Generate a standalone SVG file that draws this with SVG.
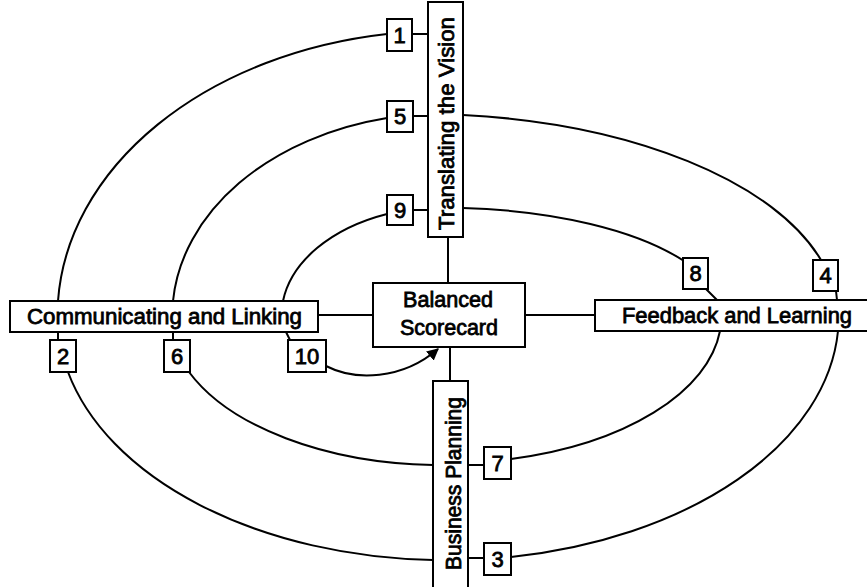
<svg xmlns="http://www.w3.org/2000/svg" width="867" height="587" viewBox="0 0 867 587">
<style>
.box{fill:#fff;stroke:#000;stroke-width:2}
.ln{fill:none;stroke:#000;stroke-width:2}
.t{font-family:"Liberation Sans",Arial,sans-serif;font-size:22px;fill:#000;stroke:#000;stroke-width:0.8}
.n{text-anchor:middle}
</style>
<defs>
<marker id="ah" viewBox="0 0 10 10" refX="9" refY="5" markerWidth="12" markerHeight="12" markerUnits="userSpaceOnUse" orient="auto">
<path d="M0,0 L10,5 L0,10 z" fill="#000"/>
</marker>
</defs>
<rect width="867" height="587" fill="#fff"/>
<g id="connectors">
<path class="ln" d="M387 34 A387.5 285.2 0 0 0 58 301"/>
<path class="ln" d="M68 372 A387.3 244.1 0 0 0 433 560"/>
<path class="ln" d="M511 557 A393.7 244.5 0 0 0 838 331"/>
<path class="ln" d="M821 260 A418 202.1 0 0 0 463 115"/>
<path class="ln" d="M387 118 A272.8 202.6 0 0 0 173 301"/>
<path class="ln" d="M189 372 A273 149.1 0 0 0 433 465"/>
<path class="ln" d="M511 459 A276.4 147.3 0 0 0 720 331"/>
<path class="ln" d="M684 261 A279.3 108.2 0 0 0 463 208"/>
<path class="ln" d="M387 214 A164.6 109 0 0 0 283 301"/>
<path class="ln" d="M326 366 C355 381 402 380 438 349" marker-end="url(#ah)"/>
<path class="ln" d="M412 34 H428 M413 116 H428 M413 210 H428 M58 332 V340 M173 332 V340 M286 332 L290 340 M468 465 H484 M468 558 H484 M706 289 L717 300 M836 291 L837 300"/>
<path class="ln" d="M448 237 V283 M318 315 H373 M525 315 H595 M450 347 V381"/>
</g>
<g id="translating">
<rect class="box" x="428" y="2" width="35" height="235"/>
<text class="t n" transform="translate(453.5,123.5) rotate(-90)" textLength="213" lengthAdjust="spacingAndGlyphs">Translating the Vision</text>
</g>
<g id="communicating">
<rect class="box" x="10" y="301" width="308" height="31"/>
<text class="t" x="27" y="323.5" textLength="275" lengthAdjust="spacingAndGlyphs">Communicating and Linking</text>
</g>
<g id="scorecard">
<rect class="box" x="373" y="283" width="152" height="64"/>
<text class="t n" x="448" y="306.5" textLength="90" lengthAdjust="spacingAndGlyphs">Balanced</text>
<text class="t n" x="449" y="334.5" textLength="98" lengthAdjust="spacingAndGlyphs">Scorecard</text>
</g>
<g id="feedback">
<rect class="box" x="595" y="300" width="280" height="31"/>
<text class="t" x="622" y="322.5" textLength="230" lengthAdjust="spacingAndGlyphs">Feedback and Learning</text>
</g>
<g id="planning">
<rect class="box" x="433" y="381" width="35" height="215"/>
<text class="t n" transform="translate(460.5,483.5) rotate(-90)" textLength="173" lengthAdjust="spacingAndGlyphs">Business Planning</text>
</g>
<g id="n1"><rect class="box" x="387" y="19" width="25" height="32"/><text class="t n" x="399.5" y="43">1</text></g>
<g id="n2"><rect class="box" x="50" y="340" width="26" height="32"/><text class="t n" x="63" y="364">2</text></g>
<g id="n3"><rect class="box" x="484" y="543" width="27" height="32"/><text class="t n" x="497.5" y="567">3</text></g>
<g id="n4"><rect class="box" x="813" y="260" width="25" height="31"/><text class="t n" x="825.5" y="283">4</text></g>
<g id="n5"><rect class="box" x="387" y="101" width="26" height="31"/><text class="t n" x="400" y="124">5</text></g>
<g id="n6"><rect class="box" x="164" y="340" width="26" height="32"/><text class="t n" x="177" y="364">6</text></g>
<g id="n7"><rect class="box" x="484" y="447" width="27" height="32"/><text class="t n" x="497.5" y="471">7</text></g>
<g id="n8"><rect class="box" x="683" y="258" width="25" height="31"/><text class="t n" x="695.5" y="281">8</text></g>
<g id="n9"><rect class="box" x="387" y="195" width="26" height="30"/><text class="t n" x="400" y="218">9</text></g>
<g id="n10"><rect class="box" x="288" y="340" width="38" height="32"/><text class="t n" x="307" y="364">10</text></g>
</svg>
